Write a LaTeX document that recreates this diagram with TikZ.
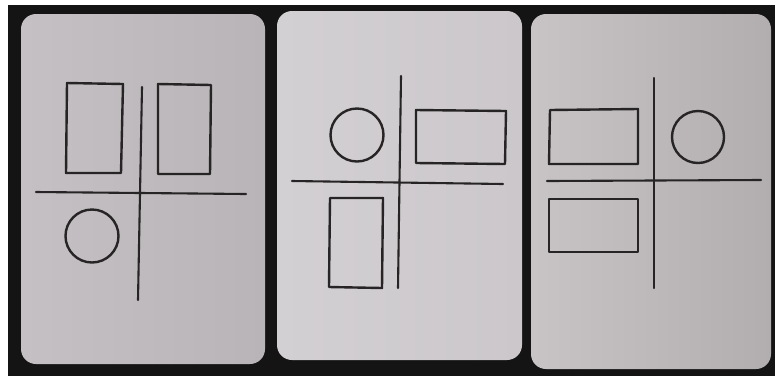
\documentclass[tikz,border=0pt]{standalone}
\usepackage{tikz}
\usetikzlibrary{calc}
\definecolor{tablebg}{HTML}{151414}
\definecolor{cardA}{HTML}{C4C0C3}
\definecolor{cardAr}{HTML}{B8B4B7}
\definecolor{cardB}{HTML}{D3D0D3}
\definecolor{cardBr}{HTML}{CBC7CA}
\definecolor{cardC}{HTML}{C8C4C6}
\definecolor{cardCr}{HTML}{B2AEB0}
\definecolor{pen}{HTML}{262424}

\begin{document}
\begin{tikzpicture}[x=1pt, y=-1pt,
        card/.style={rounded corners=15pt},
        ink/.style={draw=pen, line width=2.4pt, line join=round},
        axis/.style={draw=pen, line width=2.1pt, line cap=round},
    ]
    \useasboundingbox (0,0) rectangle (776,376);
    % ---- Photo frame: white margin, dark table ----
    \fill[white] (0,0) rectangle (776,376);
    \fill[tablebg] (8,5) rectangle (775,376);

    % ---- Card 1: two tall boxes above, circle below left ----
    \shade[card, left color=cardA, right color=cardAr] (21,14) rectangle (265,364);
    \draw[axis] (142,87) -- (138,300);
    \draw[axis] (36,192) -- (246,194);
    \draw[ink] (67,83) -- (123,84) -- (121,173) -- (66,173) -- cycle;
    \draw[ink] (158,84) -- (211,85) -- (210,174) -- (158,174) -- cycle;
    \draw[ink] (92,236) circle (26.5);

    % ---- Card 2: circle and wide box above, tall box below left ----
    \shade[card, left color=cardB, right color=cardBr] (277,11) rectangle (522,360);
    \draw[axis] (401,76) -- (398,288);
    \draw[axis] (292,181) -- (503,184);
    \draw[ink] (357,135) circle (26.5);
    \draw[ink] (416,110) -- (506,111) -- (505,164) -- (416,163) -- cycle;
    \draw[ink] (330,198) -- (383,198) -- (382,288) -- (329,287) -- cycle;

    % ---- Card 3: wide box and circle above, wide box below left ----
    \shade[card, left color=cardC, right color=cardCr] (531,14) rectangle (771,369);
    \draw[axis] (654,78) -- (654,288);
    \draw[axis] (547,181) -- (761,180);
    \draw[ink] (550,110) -- (638,109) -- (638,164) -- (549,164) -- cycle;
    \draw[ink] (698,137) circle (26);
    \draw[ink] (549,199) -- (638,199) -- (638,252) -- (549,252) -- cycle;

\end{tikzpicture}
\end{document}
